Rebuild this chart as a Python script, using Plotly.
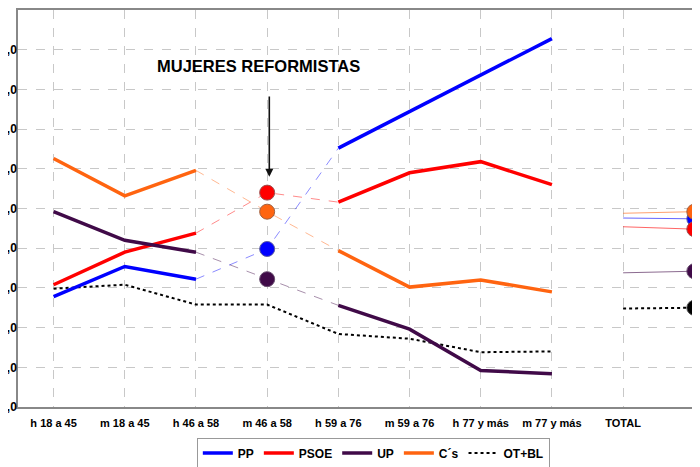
import plotly.graph_objects as go

categories = ["h 18 a 45", "m 18 a 45", "h 46 a 58", "m 46 a 58", "h 59 a 76",
              "m 59 a 76", "h 77 y más", "m 77 y más", "TOTAL", "TOTAL"]
pp = [13.9, 17.7, 16.1, 19.9, 32.6, 37.2, 41.9, 46.4, 23.8, 23.7]
psoe = [15.4, 19.5, 21.9, 27.0, 25.8, 29.5, 30.9, 28.0, 22.7, 22.4]
up = [24.6, 21.0, 19.5, 16.1, 12.8, 9.8, 4.6, 4.2, 16.9, 17.1]
cs = [31.3, 26.6, 29.8, 24.6, 19.7, 15.1, 16.0, 14.5, 24.4, 24.6]
ot = [14.9, 15.4, 12.9, 12.9, 9.2, 8.6, 6.9, 7.0, 12.4, 12.5]
y_ticks = [0, 5, 10, 15, 20, 25, 30, 35, 40, 45, 50]
y_ticktext = [f"{v},0" for v in y_ticks]

FONT = "Liberation Sans, Arial, sans-serif"
xs = list(range(len(categories)))

series = [
    ("PP", pp, "#0000FF", "#5a5aa0"),
    ("PSOE", psoe, "#FF0000", "#9a5050"),
    ("UP", up, "#400A48", "#6a5070"),
    ("C´s", cs, "#FF6410", "#a06040"),
]

main_idx = {0, 1, 2, 4, 5, 6, 7}


def pick(vals, idx):
    return [v if i in idx else None for i, v in enumerate(vals)]


fig = go.Figure()

for name, vals, col, edge in series:
    fig.add_trace(go.Scatter(x=xs, y=pick(vals, {2, 3, 4}), mode="lines",
                             line=dict(color=col, width=1, dash="dash"),
                             opacity=0.45, showlegend=False, hoverinfo="skip"))
    fig.add_trace(go.Scatter(x=xs, y=pick(vals, {8, 9}), mode="lines",
                             line=dict(color=col, width=1), opacity=0.6,
                             showlegend=False, hoverinfo="skip"))

fig.add_trace(go.Scatter(x=xs, y=pick(ot, set(range(8))), mode="lines",
                         line=dict(color="black", width=2, dash="dot"),
                         name="OT+BL", showlegend=False))
fig.add_trace(go.Scatter(x=xs, y=pick(ot, {8, 9}), mode="lines",
                         line=dict(color="black", width=2, dash="dot"),
                         showlegend=False))

for name, vals, col, edge in series:
    fig.add_trace(go.Scatter(x=xs, y=pick(vals, main_idx), mode="lines",
                             line=dict(color=col, width=3.5), name=name,
                             connectgaps=False))

for name, vals, col, edge in series:
    fig.add_trace(go.Scatter(x=[3, 9], y=[vals[3], vals[9]], mode="markers",
                             marker=dict(color=col, size=15,
                                         line=dict(color=edge, width=1)),
                             showlegend=False, cliponaxis=False))
fig.add_trace(go.Scatter(x=[9], y=[ot[9]], mode="markers",
                         marker=dict(color="black", size=15,
                                     line=dict(color="#555", width=1)),
                         showlegend=False, cliponaxis=False))

fig.add_trace(go.Scatter(x=[None], y=[None], mode="lines",
                         line=dict(color="black", width=2, dash="dot"),
                         name="OT+BL"))

fig.add_annotation(x=2.88, y=42.9, xref="x", yref="y", text="<b>MUJERES REFORMISTAS</b>",
                   showarrow=False, font=dict(family=FONT, size=16.5, color="black"))
fig.add_annotation(x=3.03, y=29.0, ax=3.03, ay=39.3, xref="x", yref="y",
                   axref="x", ayref="y", text="", showarrow=True,
                   arrowhead=2, arrowsize=1, arrowwidth=1.6, arrowcolor="#111")

fig.update_layout(
    width=692, height=459,
    margin=dict(l=10, r=0, t=2, b=60, autoexpand=False),
    plot_bgcolor="white", paper_bgcolor="white",
    font=dict(family=FONT, color="black"),
    legend=dict(orientation="h", x=0.521, xanchor="center", y=-0.077, yanchor="top",
                bordercolor="#999", borderwidth=1,
                font=dict(family=FONT, size=12, weight="bold"),
                itemwidth=30, tracegroupgap=0),
    xaxis=dict(range=[-0.5, 9.08], tickmode="array", tickvals=xs, ticktext=categories,
               showgrid=True, gridcolor="#c8c8c8", griddash="dash", gridwidth=1,
               showline=True, linecolor="#888", linewidth=1.5, mirror=True,
               zeroline=False, ticks="", tickfont=dict(family=FONT, size=11, weight="bold"),
               ticklabelstandoff=5, fixedrange=True, automargin=False),
    yaxis=dict(range=[0, 50], tickmode="array", tickvals=y_ticks, ticktext=y_ticktext,
               showgrid=True, gridcolor="#c8c8c8", griddash="dash", gridwidth=1,
               showline=True, linecolor="#888", linewidth=1.5,
               zeroline=False, ticks="", tickfont=dict(family=FONT, size=12, weight="bold"),
               ticklabelstandoff=-3, fixedrange=True, automargin=False),
)

fig.write_html("out.html")
